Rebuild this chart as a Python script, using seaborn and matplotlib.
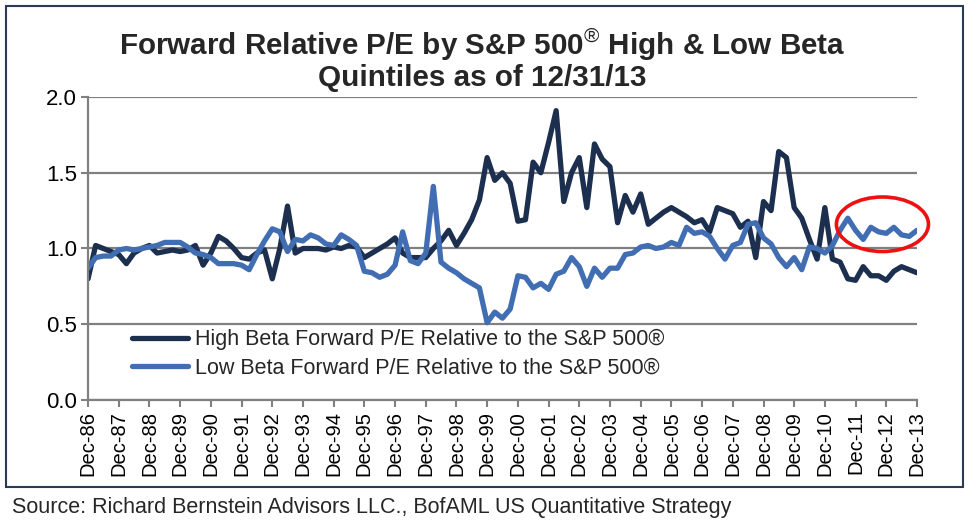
import matplotlib
matplotlib.use("Agg")
import matplotlib.pyplot as plt
import matplotlib.dates as mdates
import pandas as pd
import seaborn as sns
from matplotlib.patches import Ellipse, Rectangle
from matplotlib.ticker import FormatStrFormatter

# quarterly readings, Dec-86 .. Dec-13
quarters = pd.period_range("1986Q4", "2013Q4", freq="Q").to_timestamp(how="end").normalize()

high_beta = [
    0.80, 1.02, 1.00, 0.98, 0.96, 0.90, 0.97, 1.00, 1.02, 0.97,
    0.98, 0.99, 0.98, 0.99, 1.02, 0.89, 0.97, 1.08, 1.05, 1.00,
    0.94, 0.93, 0.97, 0.99, 0.80, 1.00, 1.28, 0.97, 1.00, 1.00,
    1.00, 0.99, 1.01, 1.00, 1.02, 1.01, 0.94, 0.97, 1.00, 1.03,
    1.07, 0.97, 0.94, 0.94, 0.94, 1.00, 1.05, 1.12, 1.02, 1.10,
    1.19, 1.32, 1.60, 1.45, 1.50, 1.43, 1.18, 1.19, 1.57, 1.50,
    1.70, 1.91, 1.31, 1.50, 1.60, 1.27, 1.69, 1.59, 1.54, 1.17,
    1.35, 1.24, 1.36, 1.16, 1.20, 1.24, 1.27, 1.24, 1.21, 1.17,
    1.19, 1.11, 1.27, 1.25, 1.23, 1.14, 1.18, 0.94, 1.31, 1.25,
    1.64, 1.60, 1.27, 1.20, 1.06, 0.93, 1.27, 0.93, 0.91, 0.80,
    0.79, 0.88, 0.82, 0.82, 0.79, 0.85, 0.88, 0.86, 0.84,
]

low_beta = [
    0.87, 0.94, 0.95, 0.95, 0.99, 1.00, 0.99, 1.00, 1.01, 1.02,
    1.04, 1.04, 1.04, 1.01, 0.97, 0.96, 0.94, 0.90, 0.90, 0.90,
    0.89, 0.86, 0.96, 1.05, 1.13, 1.11, 0.98, 1.06, 1.05, 1.09,
    1.07, 1.03, 1.02, 1.09, 1.06, 1.02, 0.85, 0.84, 0.81, 0.83,
    0.89, 1.11, 0.92, 0.90, 0.97, 1.41, 0.91, 0.87, 0.84, 0.80,
    0.77, 0.74, 0.51, 0.58, 0.54, 0.60, 0.82, 0.81, 0.74, 0.77,
    0.73, 0.83, 0.85, 0.94, 0.88, 0.75, 0.87, 0.81, 0.87, 0.87,
    0.96, 0.97, 1.01, 1.02, 1.00, 1.01, 1.04, 1.02, 1.14, 1.10,
    1.11, 1.08, 1.00, 0.93, 1.02, 1.04, 1.16, 1.17, 1.07, 1.03,
    0.94, 0.88, 0.94, 0.86, 1.01, 1.00, 0.97, 1.02, 1.12, 1.20,
    1.12, 1.06, 1.14, 1.11, 1.10, 1.14, 1.09, 1.08, 1.12,
]

tick_labels = [
    "Dec-86", "Dec-87", "Dec-88", "Dec-89", "Dec-90", "Dec-91", "Dec-92",
    "Dec-93", "Dec-94", "Dec-95", "Dec-96", "Dec-97", "Dec-98", "Dec-99",
    "Dec-00", "Dec-01", "Dec-02", "Dec-03", "Dec-04", "Dec-05", "Dec-06",
    "Dec-07", "Dec-08", "Dec-09", "Dec-10", "Dec-11", "Dec-12", "Dec-13",
]

hb_label = "High Beta Forward P/E Relative to the S&P 500®"
lb_label = "Low Beta Forward P/E Relative to the S&P 500®"
navy = "#1d2f4f"
blue = "#416db3"
grey = "#808080"

sns.set_theme(style="white")
plt.rcParams["font.family"] = ["Liberation Sans", "DejaVu Sans"]
plt.rcParams["mathtext.fontset"] = "custom"
plt.rcParams["mathtext.rm"] = "Liberation Sans"

df = pd.DataFrame({
    "date": list(quarters) * 2,
    "value": high_beta + low_beta,
    "series": [hb_label] * len(high_beta) + [lb_label] * len(low_beta),
})

fig, ax = plt.subplots(figsize=(9.75, 5.29), dpi=100)
fig.subplots_adjust(left=0.0903, right=0.9405, bottom=0.2439, top=0.8166)

sns.lineplot(data=df, x="date", y="value", hue="series",
             palette=[navy, blue], linewidth=3.8, ax=ax)

# grid + axes styling
ax.set_ylim(0, 2.0)
ax.set_yticks([0, 0.5, 1.0, 1.5, 2.0])
ax.yaxis.set_major_formatter(FormatStrFormatter("%.1f"))
ax.yaxis.grid(True, color=grey, linewidth=1.6)
ax.set_axisbelow(True)
ax.set_xlim(quarters[0], quarters[-1])
ax.set_xticks(quarters[::4])
ax.set_xticklabels(tick_labels, rotation=90)
for side in ["top", "right"]:
    ax.spines[side].set_visible(False)
for side in ["left", "bottom"]:
    ax.spines[side].set_color(grey)
    ax.spines[side].set_linewidth(1.6)
ax.tick_params(axis="both", bottom=True, left=True, direction="out", length=5,
               width=1.5, color=grey, labelcolor="black", pad=3)
ax.tick_params(axis="y", labelsize=16)
ax.tick_params(axis="x", labelsize=14.5)
ax.set_xlabel("")
ax.set_ylabel("")

ax.legend(loc="upper left", bbox_to_anchor=(0.043, 0.263), frameon=False,
          fontsize=15.5, handlelength=2.6, handletextpad=0.3, labelspacing=0.35,
          borderaxespad=0)

# red highlight around the last couple of years
cx = mdates.date2num(pd.Timestamp("2012-11-15"))
ax.add_patch(Ellipse((cx, 1.16), width=1095, height=0.36, fill=False,
                     edgecolor="#ee1111", linewidth=2.6, zorder=5, clip_on=False))

fig.text(0.495, 0.8875,
         "Forward Relative P/E by S&P 500$^{\\mathrm{®}}$ High & Low Beta\nQuintiles as of 12/31/13",
         ha="center", va="center", fontsize=21.3, fontweight="bold", linespacing=1.05)

fig.add_artist(Rectangle((0.006, 0.0794), 0.982, 0.9093, transform=fig.transFigure,
                         fill=False, edgecolor="#2b3a55", linewidth=1.5))

fig.text(12 / 975, (529 - 508) / 529,
         "Source: Richard Bernstein Advisors LLC., BofAML US Quantitative Strategy",
         ha="left", va="center", fontsize=15.5)

plt.savefig("out.png", dpi=100)
plt.close()
